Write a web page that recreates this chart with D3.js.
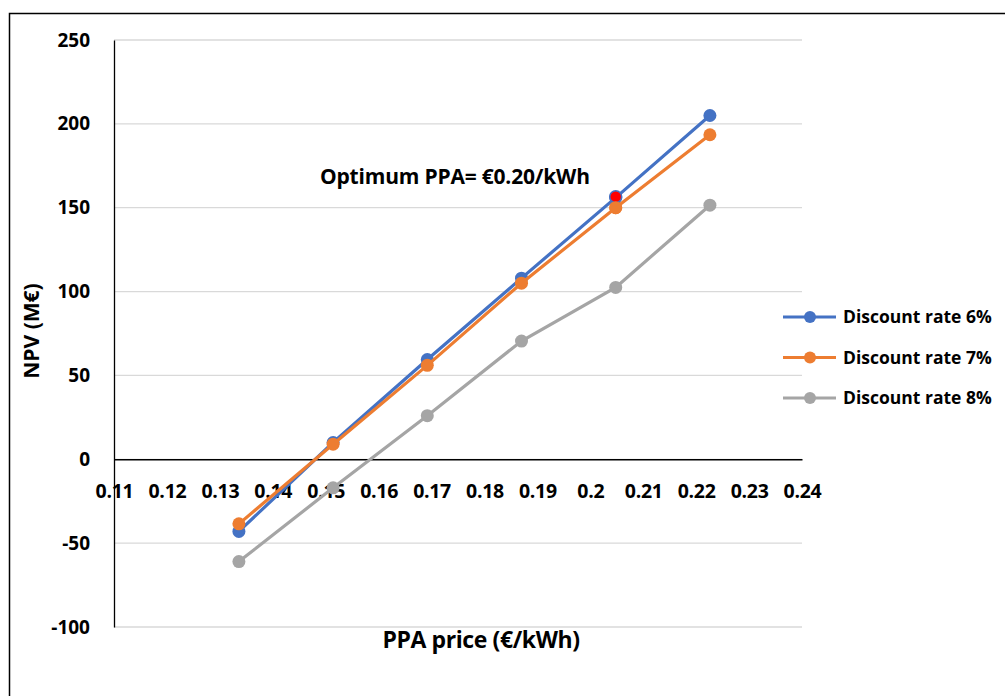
<!DOCTYPE html>
<html><head><meta charset="utf-8">
<script src="https://cdn.jsdelivr.net/npm/d3@7"></script>
<style>
body{margin:0;background:#fff;}
text{font-family:"Open Sans",Lato,sans-serif;font-weight:bold;fill:#000;}
</style></head>
<body><svg id="c" width="1005" height="696"></svg>
<script>
const ppaPrices = [0.1336, 0.1514, 0.1692, 0.1870, 0.2048, 0.2226];
const npv6 = [-43, 10, 59.5, 108, 156, 205];
const npv7 = [-38.5, 9, 56, 105, 150, 193.5];
const npv8 = [-61, -17, 26, 70.5, 102.5, 151.5];
const seriesNames = ["Discount rate 6%", "Discount rate 7%", "Discount rate 8%"];
const seriesColors = ["#4472c4", "#ed7d31", "#a5a5a5"];
const xTicks = [0.11,0.12,0.13,0.14,0.15,0.16,0.17,0.18,0.19,0.2,0.21,0.22,0.23,0.24];
const yTicks = [-100,-50,0,50,100,150,200,250];
const optimumIndex = 4;

const svg = d3.select("#c");
svg.append("path").attr("d","M9.5,696 V13.5 H1005").attr("fill","none").attr("stroke","#000").attr("stroke-width",1.5);

const x = d3.scaleLinear().domain([0.11,0.24]).range([114,802]);
const y = d3.scaleLinear().domain([-100,250]).range([627,40]);

svg.append("g").selectAll("line").data(yTicks).join("line")
  .attr("x1",114).attr("x2",802).attr("y1",d=>y(d)).attr("y2",d=>y(d))
  .attr("stroke","#d9d9d9").attr("stroke-width",1.3);

const yAxis = d3.axisLeft(y).tickValues(yTicks).tickSize(0).tickPadding(24).tickFormat(d=>String(d));
const gy = svg.append("g").attr("transform","translate(114,0)").call(yAxis);
gy.select(".domain").attr("stroke","#000").attr("stroke-width",1.3);
gy.selectAll("text").style("font-size","19px").attr("font-family",null);

const xAxis = d3.axisBottom(x).tickValues(xTicks).tickSize(0).tickPadding(25).tickFormat(d=>String(+d.toFixed(2)));
const gx = svg.append("g").attr("transform",`translate(0,${y(0)})`).call(xAxis);
gx.select(".domain").attr("stroke","#000").attr("stroke-width",1.5);
gx.selectAll("text").style("font-size","19.5px").attr("font-family",null).attr("letter-spacing","-0.3px");

const allSeries = [npv6, npv7, npv8];
const line = d3.line().x((d,i)=>x(ppaPrices[i])).y(d=>y(d));
[2,0,1].forEach(k=>{
  const g = svg.append("g");
  g.append("path").datum(allSeries[k]).attr("d",line).attr("fill","none")
    .attr("stroke",seriesColors[k]).attr("stroke-width",3.2);
  g.selectAll("circle").data(allSeries[k]).join("circle")
    .attr("cx",(d,i)=>x(ppaPrices[i])).attr("cy",d=>y(d)).attr("r",6.5)
    .attr("fill",seriesColors[k]);
});
svg.append("circle").datum(npv6[optimumIndex])
  .attr("cx",x(ppaPrices[optimumIndex])).attr("cy",d=>y(d)-1).attr("r",6)
  .attr("fill","#ff0000").attr("stroke",seriesColors[0]).attr("stroke-width",1.5);
svg.append("circle").datum(npv7[optimumIndex])
  .attr("cx",x(ppaPrices[optimumIndex])).attr("cy",d=>y(d)).attr("r",6.5)
  .attr("fill",seriesColors[1]);

svg.append("text").attr("x",320).attr("y",184).style("font-size","21px").attr("letter-spacing","-0.2px").text("Optimum PPA= €0.20/kWh");

svg.append("text").attr("x",481).attr("y",648).attr("text-anchor","middle").style("font-size","23px").attr("letter-spacing","-0.4px").text("PPA price (€/kWh)");
svg.append("text").attr("transform","translate(39,331) rotate(-90)").attr("text-anchor","middle").style("font-size","21px").text("NPV (M€)");

const lg = svg.append("g").selectAll("g").data(seriesNames).join("g")
  .attr("transform",(d,i)=>`translate(783,${317+i*40.5})`);
lg.append("line").attr("x1",0).attr("x2",53).attr("stroke",(d,i)=>seriesColors[i]).attr("stroke-width",3.2);
lg.append("circle").attr("cx",27).attr("r",6).attr("fill",(d,i)=>seriesColors[i]);
lg.append("text").attr("x",60).attr("dy","0.35em").style("font-size","17.5px").text(d=>d);
</script></body></html>
